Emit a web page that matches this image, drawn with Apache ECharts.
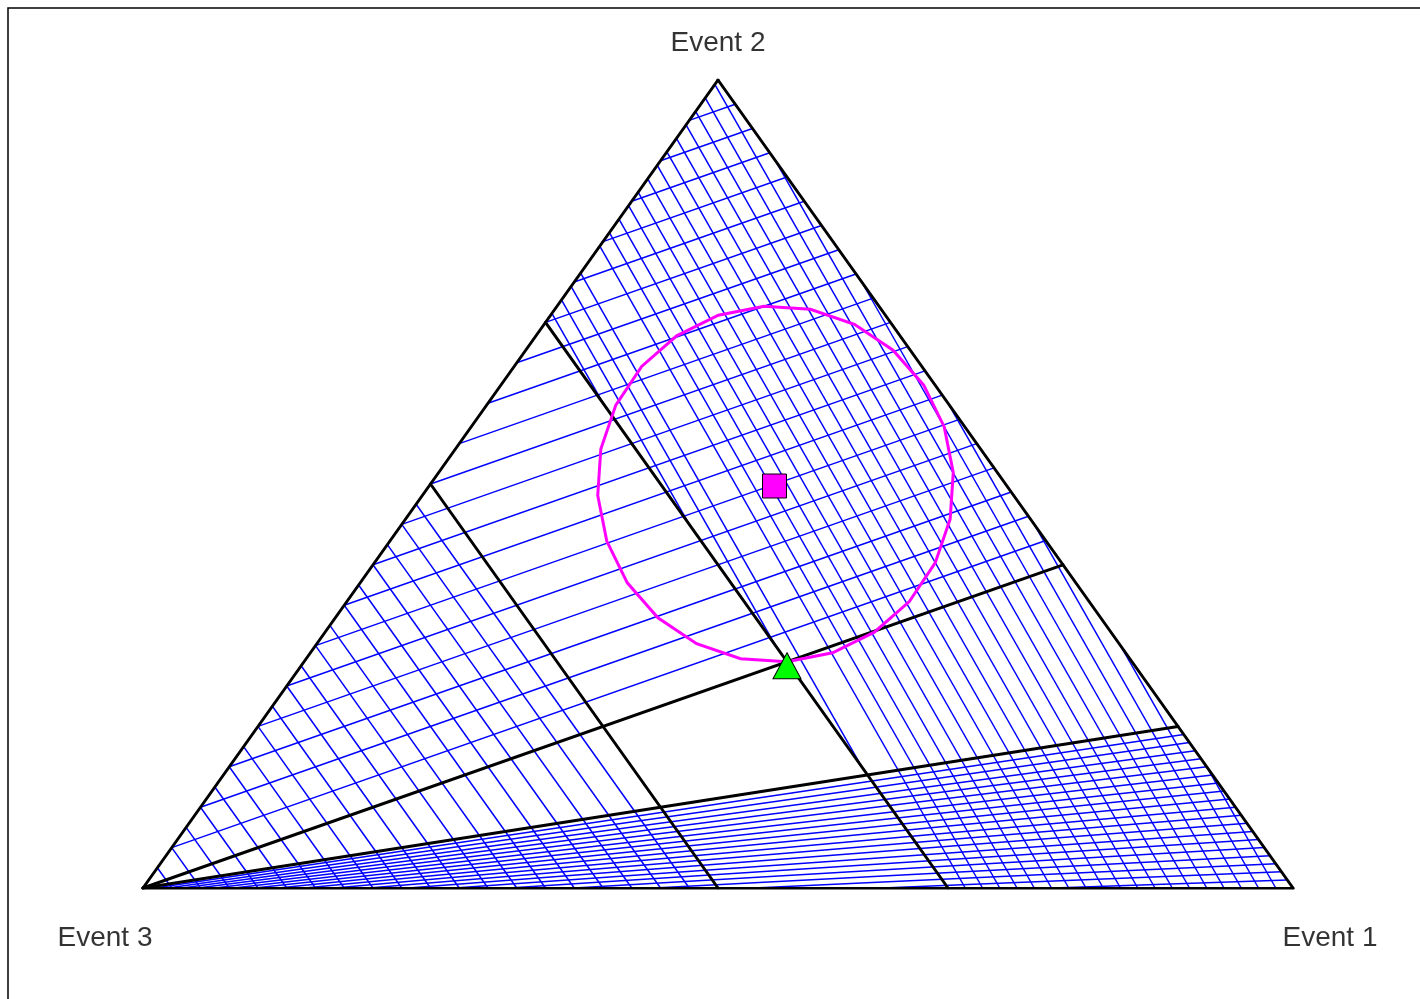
<!DOCTYPE html>
<html>
<head>
<meta charset="utf-8">
<script src="https://cdn.jsdelivr.net/npm/echarts@6/dist/echarts.min.js"></script>
<style>
  html, body { margin: 0; padding: 0; background: #fff; }
  #main { width: 1420px; height: 999px; }
</style>
</head>
<body>
<div id="main"></div>
<script>
// corners of the probability triangle, as (p1, p2, p3)
var corners = [[1, 0, 0], [0, 1, 0], [0, 0, 1]];
var cornerNames = ["Event 1", "Event 2", "Event 3"];

// black boundaries: lines of constant p3, and rays from Event 3 to the p2 value on the 1-2 edge
var boundaryP3 = [0.3, 0.5];
var boundaryRayP2 = [0.4, 0.2];

// the two marked points and the circle around the first one
var centerPoint = [0.3, 0.5, 0.2];
var touchPoint = [0.42, 0.28, 0.3];

// hatching levels
var hatchUpper = [0.15, 0.3, 0.45, 0.6, 0.75, 0.9, 1.05, 1.2, 1.35, 1.5, 1.65, 1.8, 1.95, 2.1, 2.25, 2.4, 2.55, 2.7, 2.85];
var hatchLeft = [0.525, 0.55, 0.575, 0.6, 0.625, 0.65, 0.675, 0.7, 0.725, 0.75, 0.775, 0.8, 0.825, 0.85, 0.875, 0.9, 0.925, 0.95, 0.975];
var hatchRight = [0.015, 0.03, 0.045, 0.06, 0.075, 0.09, 0.105, 0.12, 0.135, 0.15, 0.165, 0.18, 0.195, 0.21, 0.225, 0.24, 0.255, 0.27, 0.285, 0.315, 0.33, 0.345, 0.36];
var hatchLowerP2 = [0.01, 0.02, 0.03, 0.04, 0.05, 0.06, 0.07, 0.08, 0.09, 0.1, 0.11, 0.12, 0.13, 0.14, 0.15, 0.16, 0.17, 0.18, 0.19];
var hatchLowerOrigin = [-0.2, -0.05, 1.25];

function toXY(p) {
  return [p[0] + 0.5 * p[1], p[1]];
}
function dot(a, b) {
  return a[0] * b[0] + a[1] * b[1] + a[2] * b[2];
}

var inTriangle = [
  { a: [1, 0, 0], b: 0 },
  { a: [0, 1, 0], b: 0 },
  { a: [0, 0, 1], b: 0 }
];

// clip the line A + t*d to the triangle plus extra half planes (a.p >= b)
function clip(A, d, extra) {
  var tmin = -1e6, tmax = 1e6;
  var cons = inTriangle.concat(extra);
  for (var i = 0; i < cons.length; i++) {
    var num = dot(cons[i].a, A) - cons[i].b;
    var den = dot(cons[i].a, d);
    if (Math.abs(den) < 1e-12) {
      if (num < 0) return null;
    } else if (den > 0) {
      tmin = Math.max(tmin, -num / den);
    } else {
      tmax = Math.min(tmax, -num / den);
    }
  }
  if (tmax - tmin < 1e-4) return null;
  var p = [], q = [];
  for (var k = 0; k < 3; k++) {
    p.push(A[k] + tmin * d[k]);
    q.push(A[k] + tmax * d[k]);
  }
  return { coords: [toXY(p), toXY(q)] };
}

// level line a.p = L
function levelLine(a, L, extra) {
  var m = (a[0] + a[1] + a[2]) / 3;
  var w = [a[0] - m, a[1] - m, a[2] - m];
  var s = (L - m) / dot(a, w);
  var p0 = [1 / 3 + s * w[0], 1 / 3 + s * w[1], 1 / 3 + s * w[2]];
  var d = [a[1] - a[2], a[2] - a[0], a[0] - a[1]];
  return clip(p0, d, extra);
}

var hatch = [];
function push(seg) {
  if (seg) hatch.push(seg);
}
hatchUpper.forEach(function (L) {
  push(levelLine([-2, 3, 0], L, [{ a: [-2, 3, 0], b: 0 }]));
});
hatchLeft.forEach(function (L) {
  push(levelLine([0, 0, 1], L, [{ a: [0, 0, 1], b: 0.5 }]));
});
hatchRight.forEach(function (L) {
  push(levelLine([0, 0.1, 1], L, [{ a: [0, 0, -1], b: -0.3 }]));
});
hatchLowerP2.forEach(function (q) {
  var Q = [1 - q, q, 0];
  var d = [Q[0] - hatchLowerOrigin[0], Q[1] - hatchLowerOrigin[1], Q[2] - hatchLowerOrigin[2]];
  push(clip(hatchLowerOrigin, d, [{ a: [0.25, -1, 0], b: 0 }]));
});

var black = [
  { coords: [toXY(corners[2]), toXY(corners[0])] },
  { coords: [toXY(corners[0]), toXY(corners[1])] },
  { coords: [toXY(corners[1]), toXY(corners[2])] }
];
boundaryP3.forEach(function (c) {
  black.push({ coords: [toXY([0, 1 - c, c]), toXY([1 - c, 0, c])] });
});
boundaryRayP2.forEach(function (q) {
  black.push({ coords: [toXY(corners[2]), toXY([1 - q, q, 0])] });
});

var labelOffsets = [[37, 50], [0, -37], [-38, 50]];

var chart = echarts.init(document.getElementById("main"));
var option = {
  animation: false,
  backgroundColor: "#fff",
  grid: { left: 143, top: 80, width: 1150, height: 808 },
  xAxis: { type: "value", min: 0, max: 1, show: false },
  yAxis: { type: "value", min: 0, max: 1, show: false },
  graphic: [
    {
      type: "rect",
      shape: { x: 8, y: 8, width: 1430, height: 1010 },
      style: { fill: null, stroke: "#000", lineWidth: 1.5 },
      silent: true
    }
  ],
  series: [
    {
      type: "lines",
      coordinateSystem: "cartesian2d",
      silent: true,
      z: 1,
      lineStyle: { color: "#0000ff", width: 1.5, opacity: 1 },
      data: hatch
    },
    {
      type: "lines",
      coordinateSystem: "cartesian2d",
      silent: true,
      z: 3,
      lineStyle: { color: "#000", width: 3, opacity: 1, cap: "round", join: "round" },
      data: black
    },
    {
      type: "custom",
      coordinateSystem: "cartesian2d",
      silent: true,
      z: 4,
      data: [toXY(centerPoint)],
      renderItem: function (params, api) {
        var c = api.coord(toXY(centerPoint));
        var t = api.coord(toXY(touchPoint));
        var r = Math.sqrt((t[0] - c[0]) * (t[0] - c[0]) + (t[1] - c[1]) * (t[1] - c[1]));
        var a0 = Math.atan2(t[1] - c[1], t[0] - c[0]);
        var n = 24, pts = [];
        for (var k = 0; k <= n; k++) {
          var a = a0 + (2 * Math.PI * k) / n;
          pts.push([c[0] + r * Math.cos(a), c[1] + r * Math.sin(a)]);
        }
        return {
          type: "polyline",
          shape: { points: pts },
          style: { stroke: "#ff00ff", lineWidth: 3, fill: null }
        };
      }
    },
    {
      type: "scatter",
      silent: true,
      z: 5,
      symbol: "rect",
      symbolSize: 24,
      symbolOffset: [-1, 2],
      itemStyle: { color: "#ff00ff", borderColor: "#000", borderWidth: 1, opacity: 1 },
      data: [toXY(centerPoint)]
    },
    {
      type: "scatter",
      silent: true,
      z: 5,
      symbol: "triangle",
      symbolSize: [28, 26],
      symbolOffset: [0, 4],
      itemStyle: { color: "#00ff00", borderColor: "#000", borderWidth: 1, opacity: 1 },
      data: [toXY(touchPoint)]
    },
    {
      type: "scatter",
      silent: true,
      z: 6,
      symbolSize: 0,
      data: corners.map(function (p, i) {
        return {
          value: toXY(p),
          name: cornerNames[i],
          label: { offset: labelOffsets[i] }
        };
      }),
      label: {
        show: true,
        position: "inside",
        formatter: "{b}",
        color: "#000000",
        fontSize: 28,
        fontFamily: "Liberation Sans, Arial, sans-serif"
      }
    }
  ]
};
chart.setOption(option);
</script>
</body>
</html>
